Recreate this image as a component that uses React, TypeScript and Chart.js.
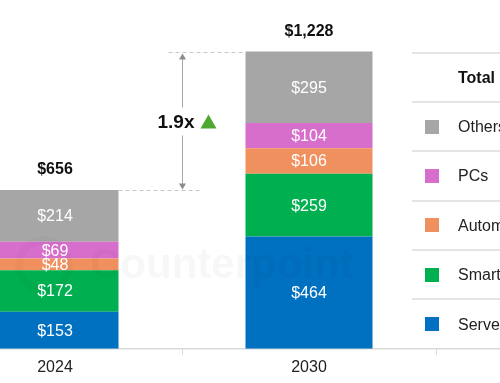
import React, { useEffect, useRef } from "react";
import { Chart, registerables } from "chart.js";

Chart.register(...registerables);

// ---------- data ----------
const categories = ["2024", "2030", ""];
const seriesNames = ["Servers", "Smartphones", "Automotive", "PCs", "Others"];
const servers = [153, 464, null];
const smartphones = [172, 259, null];
const automotive = [48, 106, null];
const pcs = [69, 104, null];
const others = [214, 295, null];
const seriesColors = ["#0070C0", "#00B050", "#F0905E", "#D86ECC", "#A6A6A6"];
const legendHeader = "Total";
const watermarkText = "Counterpoint";
const yMax = 1400;

// ---------- layout constants ----------
const FONT = "'Liberation Sans', Arial, Helvetica, sans-serif";
const SHIFT = 72; // canvas starts this far left of the visible page
const CANVAS_W = 762;
const PAGE_W = 500;
const PAGE_H = 383;

const seriesValues = [servers, smartphones, automotive, pcs, others];

const fmt = (v: number) => "$" + v.toLocaleString("en-US");

const annotate = {
  id: "annotate",
  afterDatasetsDraw(chart: any) {
    const ctx: CanvasRenderingContext2D = chart.ctx;
    const ys = chart.scales.y;
    const area = chart.chartArea;

    // watermark
    ctx.save();
    ctx.fillStyle = "rgba(0,0,0,0.03)";
    ctx.font = `bold 42px ${FONT}`;
    ctx.textAlign = "left";
    ctx.textBaseline = "alphabetic";
    ctx.fillText(watermarkText, SHIFT + 90, 278);
    ctx.strokeStyle = "rgba(0,0,0,0.025)";
    ctx.lineWidth = 8;
    ctx.beginPath();
    ctx.arc(SHIFT + 44, 265, 25, 0, Math.PI * 2);
    ctx.stroke();
    ctx.restore();

    // segment labels
    ctx.save();
    ctx.fillStyle = "#ffffff";
    ctx.font = `16px ${FONT}`;
    ctx.textAlign = "center";
    ctx.textBaseline = "middle";
    chart.data.datasets.forEach((ds: any, i: number) => {
      const meta = chart.getDatasetMeta(i);
      meta.data.forEach((el: any, j: number) => {
        const v = ds.data[j];
        if (v == null) return;
        ctx.fillText(fmt(v), el.x, (el.y + el.base) / 2 + 1);
      });
    });
    ctx.restore();

    // totals
    const totals = categories.map((_, j) =>
      seriesValues.reduce((s, arr) => s + (arr[j] ?? 0), 0)
    );
    const meta0 = chart.getDatasetMeta(0);
    ctx.save();
    ctx.fillStyle = "#111";
    ctx.font = `bold 16px ${FONT}`;
    ctx.textAlign = "center";
    ctx.textBaseline = "middle";
    totals.forEach((t, j) => {
      if (!t) return;
      const el = meta0.data[j];
      ctx.fillText(fmt(t), el.x, ys.getPixelForValue(t) - 20);
    });
    ctx.restore();

    // growth arrow
    const b0 = meta0.data[0];
    const b1 = meta0.data[1];
    const ax = Math.round((b0.x + b1.x) / 2) + 0.5;
    const yTop = Math.round(ys.getPixelForValue(totals[1])) + 0.5;
    const yBot = Math.round(ys.getPixelForValue(totals[0])) + 0.5;
    ctx.save();
    ctx.strokeStyle = "#c8c8c8";
    ctx.lineWidth = 1;
    ctx.setLineDash([4, 3]);
    ctx.beginPath();
    ctx.moveTo(ax - 14, yTop);
    ctx.lineTo(b1.x - b1.width / 2, yTop);
    ctx.moveTo(b0.x + b0.width / 2, yBot);
    ctx.lineTo(ax + 18, yBot);
    ctx.stroke();
    ctx.setLineDash([]);
    ctx.strokeStyle = "#a6a6a6";
    ctx.beginPath();
    ctx.moveTo(ax, yTop + 5);
    ctx.lineTo(ax, yBot - 5);
    ctx.stroke();
    ctx.fillStyle = "#8c8c8c";
    ctx.beginPath();
    ctx.moveTo(ax, yTop + 1);
    ctx.lineTo(ax - 3.5, yTop + 7);
    ctx.lineTo(ax + 3.5, yTop + 7);
    ctx.closePath();
    ctx.fill();
    ctx.beginPath();
    ctx.moveTo(ax, yBot - 1);
    ctx.lineTo(ax - 3.5, yBot - 7);
    ctx.lineTo(ax + 3.5, yBot - 7);
    ctx.closePath();
    ctx.fill();

    const yMid = (yTop + yBot) / 2;
    ctx.fillStyle = "#ffffff";
    ctx.fillRect(ax - 38, yMid - 14, 62, 28);
    const ratio = (totals[1] / totals[0]).toFixed(1) + "x";
    ctx.fillStyle = "#111";
    ctx.font = `bold 19px ${FONT}`;
    ctx.textAlign = "left";
    ctx.textBaseline = "middle";
    ctx.fillText(ratio, ax - 25, yMid + 1);
    ctx.fillStyle = "#4EA72E";
    ctx.beginPath();
    ctx.moveTo(ax + 26, yMid - 7);
    ctx.lineTo(ax + 34, yMid + 7);
    ctx.lineTo(ax + 18, yMid + 7);
    ctx.closePath();
    ctx.fill();
    ctx.restore();

    // legend table
    const lx = SHIFT + 412;
    const rowH = (area.bottom - yTop) / 6;
    ctx.save();
    ctx.strokeStyle = "#dcdcdc";
    ctx.lineWidth = 1.5;
    ctx.beginPath();
    for (let k = 0; k < 6; k++) {
      const y = Math.round(yTop + k * rowH);
      ctx.moveTo(lx, y);
      ctx.lineTo(chart.width, y);
    }
    ctx.stroke();
    ctx.textAlign = "left";
    ctx.textBaseline = "middle";
    ctx.fillStyle = "#111";
    ctx.font = `bold 16px ${FONT}`;
    ctx.fillText(legendHeader, SHIFT + 458, yTop + rowH / 2 + 1);
    ctx.font = `16px ${FONT}`;
    for (let k = 1; k <= 5; k++) {
      const si = 5 - k;
      const cy = yTop + k * rowH + rowH / 2;
      ctx.fillStyle = seriesColors[si];
      ctx.fillRect(SHIFT + 425, Math.round(cy - 7), 14, 14);
      ctx.fillStyle = "#222";
      ctx.fillText(seriesNames[si], SHIFT + 458, cy + 1);
    }
    ctx.restore();
  },
};

export default function App() {
  const ref = useRef<HTMLCanvasElement | null>(null);

  useEffect(() => {
    if (!ref.current) return;
    const chart = new Chart(ref.current, {
      type: "bar",
      data: {
        labels: categories,
        datasets: seriesNames.map((name, i) => ({
          label: name,
          data: seriesValues[i] as any,
          backgroundColor: seriesColors[i],
          borderWidth: 0,
          categoryPercentage: 1,
          barPercentage: 0.5,
        })),
      },
      options: {
        responsive: true,
        maintainAspectRatio: false,
        animation: false,
        layout: { padding: { top: 10, bottom: 3, left: 0, right: 0 } },
        plugins: {
          legend: { display: false },
          tooltip: { enabled: false },
        },
        scales: {
          x: {
            stacked: true,
            grid: {
              display: true,
              drawOnChartArea: false,
              drawTicks: true,
              tickLength: 6,
              color: "#d9d9d9",
              offset: true,
            },
            border: { display: true, color: "#d9d9d9", width: 1.5 },
            ticks: {
              font: { size: 16, family: FONT },
              color: "#222",
              padding: 3,
            },
          },
          y: { stacked: true, display: false, min: 0, max: yMax },
        },
      },
      plugins: [annotate],
    });
    return () => chart.destroy();
  }, []);

  return (
    <div
      style={{
        position: "fixed",
        left: 0,
        top: 0,
        width: PAGE_W,
        height: PAGE_H,
        overflow: "hidden",
        background: "#fff",
      }}
    >
      <div
        style={{
          position: "absolute",
          left: -SHIFT,
          top: 0,
          width: CANVAS_W,
          height: PAGE_H,
        }}
      >
        <canvas ref={ref} />
      </div>
    </div>
  );
}
